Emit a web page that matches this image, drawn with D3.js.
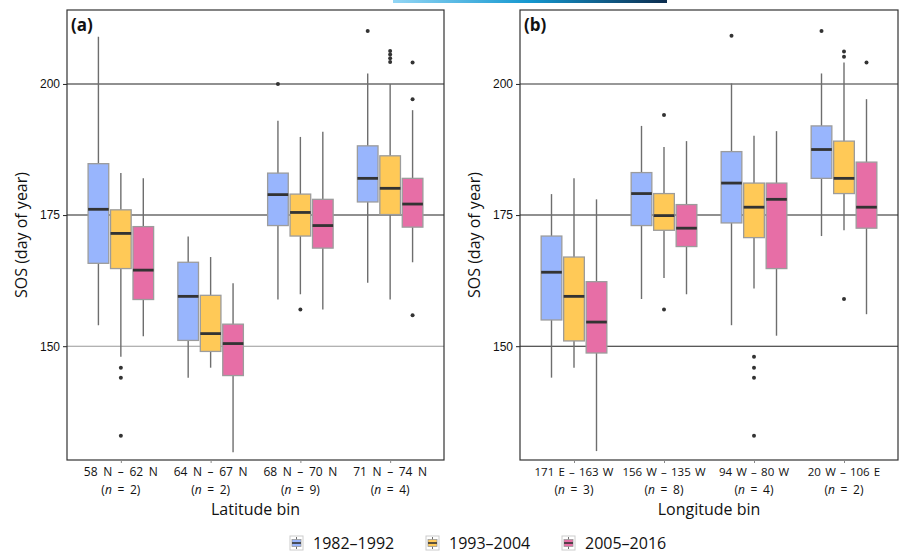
<!DOCTYPE html>
<html>
<meta charset="utf-8">
<head>
  <script src="https://d3js.org/d3.v7.min.js"></script>
  <style>
  body { margin: 0; background: #fff; }
  svg { font-family: "Open Sans", "Noto Sans", sans-serif; display: block; }
  .tick text { font-size: 12px; fill: #111; }
  .domain { display: none; }
  </style>
</head>
<body>
<svg id="chart" width="899" height="553"></svg>
<script>

// ---- data ----
var seriesNames = ["1982\u20131992", "1993\u20132004", "2005\u20132016"]
var colors = ["#98b5fd", "#ffc957", "#e76ea6"]

var latBins = ["58 N \u2013 62 N", "64 N \u2013 67 N", "68 N \u2013 70 N", "71 N \u2013 74 N"]
var latN = [2, 2, 9, 4]
var lonBins = ["171 E \u2013 163 W", "156 W \u2013 135 W", "94 W \u2013 80 W", "20 W \u2013 106 E"]
var lonN = [3, 8, 4, 2]

// [lower whisker, q1, median, q3, upper whisker] per bin
var lat1982 = [[154.0, 165.8, 176.1, 184.8, 209.0], [144.0, 151.1, 159.5, 166.0, 170.9], [158.9, 173.0, 178.9, 183.0, 193.0], [162.1, 177.5, 182.0, 188.2, 202.0]]
var lat1993 = [[148.0, 164.8, 171.5, 176.0, 183.0], [145.9, 149.0, 152.4, 159.7, 167.0], [159.9, 171.0, 175.5, 179.0, 189.9], [158.9, 175.1, 180.1, 186.3, 200.0]]
var lat2005 = [[151.9, 158.9, 164.5, 172.8, 182.0], [129.8, 144.4, 150.5, 154.2, 162.0], [157.0, 168.7, 173.0, 178.0, 190.9], [166.0, 172.7, 177.1, 182.0, 195.0]]
var latOut1982 = [[], [], [200.0], [210.1]]
var latOut1993 = [[145.9, 144.0, 132.9], [], [157.0], [206.3, 205.6, 204.9, 204.2]]
var latOut2005 = [[], [], [], [204.1, 197.1, 155.9]]

var lon1982 = [[144.0, 155.0, 164.1, 171.0, 179.0], [159.0, 173.0, 179.1, 183.1, 192.0], [154.0, 173.5, 181.1, 187.1, 200.1], [171.0, 182.0, 187.5, 192.0, 202.0]]
var lon1993 = [[145.9, 151.0, 159.5, 167.0, 182.0], [163.0, 172.1, 174.9, 179.1, 188.0], [161.0, 170.7, 176.5, 181.1, 190.1], [172.1, 179.1, 182.0, 189.1, 204.1]]
var lon2005 = [[130.0, 148.7, 154.6, 162.3, 178.0], [159.9, 169.0, 172.5, 177.0, 189.1], [152.0, 164.8, 178.0, 181.1, 191.0], [156.1, 172.5, 176.5, 185.1, 197.1]]
var lonOut1982 = [[], [], [209.2], [210.1]]
var lonOut1993 = [[], [194.1, 157.0], [148.0, 145.9, 144.0, 132.9], [206.2, 205.2, 159.0]]
var lonOut2005 = [[], [], [], [204.1]]

var yTicks = [150, 175, 200]

// ---- layout ----
var svg = d3.select("#chart")
var plotTop = 10, plotBottom = 460

var y = d3.scaleLinear().domain([128.3, 214.1]).range([plotBottom, plotTop])

// thin gradient strip at the top of the page
var grad = svg.append("defs").append("linearGradient").attr("id", "strip")
grad.append("stop").attr("offset", "0%").attr("stop-color", "#93d6f5")
grad.append("stop").attr("offset", "50%").attr("stop-color", "#1497cf")
grad.append("stop").attr("offset", "100%").attr("stop-color", "#0c2c4e")
svg.append("rect").attr("x", 393).attr("y", 0).attr("width", 274).attr("height", 3)
  .attr("fill", "url(#strip)")

function panel(left, right, label, bins, ns, stats, outs, xTitle, gridColors, labSize, labSpace){
  var g = svg.append("g")
  var x = d3.scalePoint().domain(bins).range([left, right]).padding(0.6)
  var step = x.step()
  var bw = step * 0.23

  // y grid + axis
  var yAxis = g.append("g")
    .attr("transform", "translate(" + left + ",0)")
    .call(d3.axisLeft(y).tickValues(yTicks).tickSize(4).tickPadding(3))
  yAxis.selectAll(".tick line").attr("stroke", "#222")
  g.selectAll(".grid").data(yTicks).enter().append("line")
    .attr("class", "grid")
    .attr("x1", left).attr("x2", right)
    .attr("y1", function(d){ return y(d) }).attr("y2", function(d){ return y(d) })
    .attr("stroke", function(d, i){ return gridColors[i] })
    .attr("stroke-width", 1.1)

  // boxes
  stats.forEach(function(series, si){
    var off = (si - 1) * step * 0.25
    var sg = g.append("g")
    series.forEach(function(s, bi){
      var cx = x(bins[bi]) + off
      sg.append("line")
        .attr("x1", cx).attr("x2", cx)
        .attr("y1", y(s[0])).attr("y2", y(s[4]))
        .attr("stroke", "#6e6e6e").attr("stroke-width", 1.4)
      sg.append("rect")
        .attr("x", cx - bw / 2).attr("width", bw)
        .attr("y", y(s[3])).attr("height", y(s[1]) - y(s[3]))
        .attr("fill", colors[si])
        .attr("stroke", "#9c9c9c").attr("stroke-width", 1.3)
      sg.append("line")
        .attr("x1", cx - bw / 2).attr("x2", cx + bw / 2)
        .attr("y1", y(s[2])).attr("y2", y(s[2]))
        .attr("stroke", "#333").attr("stroke-width", 2.8)
      sg.selectAll(null).data(outs[si][bi]).enter().append("circle")
        .attr("cx", cx).attr("cy", function(d){ return y(d) })
        .attr("r", 2).attr("fill", "#333")
    })
  })

  // frame
  g.append("rect")
    .attr("x", left).attr("y", plotTop)
    .attr("width", right - left).attr("height", plotBottom - plotTop)
    .attr("fill", "none").attr("stroke", "#333").attr("stroke-width", 1.2)

  // x axis
  var xAxis = g.append("g")
    .attr("transform", "translate(0," + plotBottom + ")")
    .call(d3.axisBottom(x).tickSize(3).tickFormat(""))
  xAxis.selectAll(".tick line").attr("stroke", "#888")

  bins.forEach(function(b, i){
    g.append("text")
      .attr("x", x(b)).attr("y", plotBottom + 16)
      .attr("text-anchor", "middle")
      .style("font-size", labSize).style("word-spacing", labSpace)
      .attr("fill", "#111")
      .text(b)
    var t2 = g.append("text")
      .attr("x", x(b)).attr("y", plotBottom + 34)
      .attr("text-anchor", "middle")
      .style("font-size", "12px").style("word-spacing", "2.5px").attr("fill", "#111")
    t2.append("tspan").text("(")
    t2.append("tspan").style("font-style", "italic").text("n")
    t2.append("tspan").text(" = " + ns[i] + ")")
  })

  g.append("text")
    .attr("x", (left + right) / 2).attr("y", plotBottom + 55)
    .attr("text-anchor", "middle")
    .style("font-size", "16px").attr("fill", "#111")
    .text(xTitle)

  g.append("text")
    .attr("transform", "translate(" + (left - 40) + "," + ((plotTop + plotBottom) / 2) + ") rotate(-90)")
    .attr("text-anchor", "middle")
    .style("font-size", "16px").attr("fill", "#111")
    .text("SOS (day of year)")

  g.append("text")
    .attr("x", left + 4).attr("y", plotTop + 21)
    .style("font-size", "17px").style("font-weight", "bold").attr("fill", "#111")
    .text(label)
}

panel(67, 444, "(a)", latBins, latN, [lat1982, lat1993, lat2005],
  [latOut1982, latOut1993, latOut2005], "Latitude bin", ["#999", "#222", "#222"], "12px", "2.5px")
panel(520, 898, "(b)", lonBins, lonN, [lon1982, lon1993, lon2005],
  [lonOut1982, lonOut1993, lonOut2005], "Longitude bin", ["#222", "#222", "#333"], "11.5px", "1.2px")

// legend
var legX = [290, 426, 562]
var leg = svg.append("g").attr("transform", "translate(0,536)")
seriesNames.forEach(function(name, i){
  var k = leg.append("g").attr("transform", "translate(" + legX[i] + ",0)")
  k.append("rect").attr("x", 0).attr("y", 0).attr("width", 13).attr("height", 14)
    .attr("fill", "#fff").attr("stroke", "#ccc")
  k.append("line").attr("x1", 6.5).attr("x2", 6.5).attr("y1", 1).attr("y2", 13)
    .attr("stroke", "#6e6e6e").attr("stroke-width", 1)
  k.append("rect").attr("x", 2).attr("y", 3.5).attr("width", 9).attr("height", 7)
    .attr("fill", colors[i]).attr("stroke", "#9c9c9c").attr("stroke-width", 0.8)
  k.append("line").attr("x1", 2).attr("x2", 11).attr("y1", 7).attr("y2", 7)
    .attr("stroke", "#333").attr("stroke-width", 1.6)
  leg.append("text")
    .attr("x", legX[i] + 23).attr("y", 13)
    .style("font-size", "16px").attr("fill", "#111")
    .text(name)
})

</script>
</body>
</html>
